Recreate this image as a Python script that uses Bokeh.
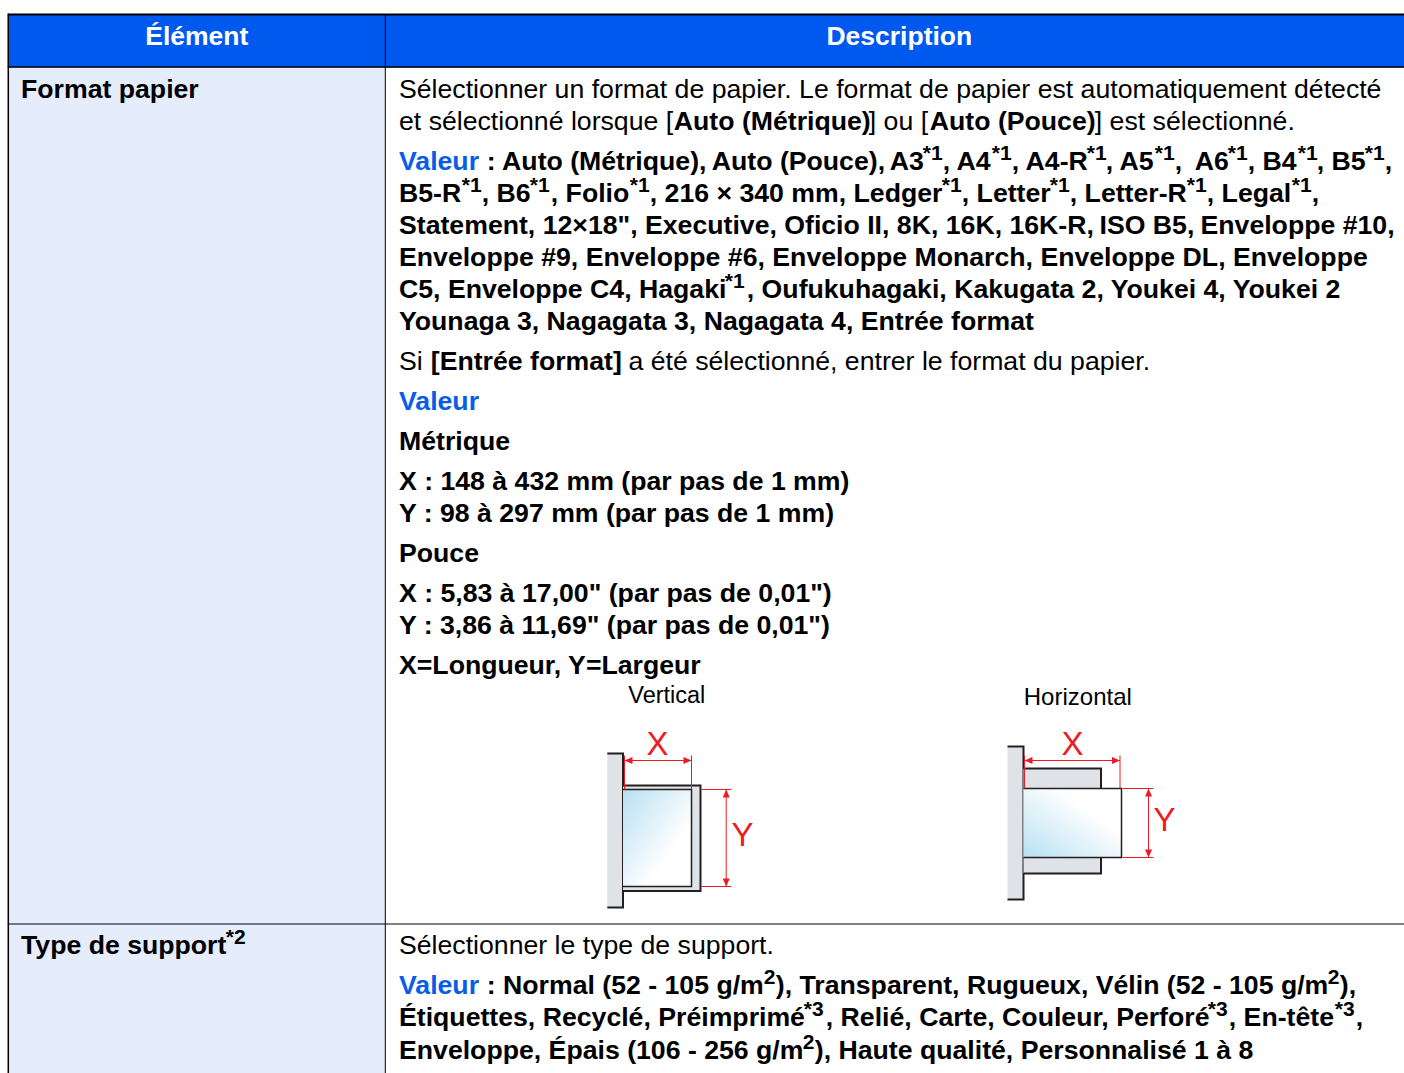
import numpy as np
from bokeh.plotting import figure
from bokeh.models import Range1d
from bokeh.embed import file_html
from bokeh.resources import INLINE
from bokeh.core.properties import value

FONT = "Liberation Sans"
BLUE = "#0059ee"
LINK = "#0a5ce8"
PALE = "#e5ecfb"
GRAY = "#dfe2e6"
RED = "#ec1c24"
DARK = "#231f20"

# ---- table texts
header_labels = ["Élément", "Description"]
row_labels = ["Format papier", "Type de support"]

line_1 = ["Sélectionner un format de papier. Le format de papier est automatiquement détecté"]
line_2 = ["et sélectionné lorsque [", "Auto (Métrique)", "] ou [", "Auto (Pouce)", "] est sélectionné."]
line_3 = ["Valeur", ": Auto (Métrique),", "Auto (Pouce),", "A3", "*1", ", A4", "*1", ", A4-R", "*1", ", A5", "*1", ",", "A6", "*1", ", B4", "*1", ", B5", "*1", ","]
line_4 = ["B5-R", "*1", ", B6", "*1", ", Folio", "*1", ", 216 × 340 mm, Ledger", "*1", ", Letter", "*1", ", Letter-R", "*1", ", Legal", "*1", ","]
line_5 = ["Statement, 12×18\", Executive, Oficio II, 8K, 16K, 16K-R,", "ISO B5,", "Enveloppe #10,"]
line_6 = ["Enveloppe #9, Enveloppe #6, Enveloppe Monarch, Enveloppe DL, Enveloppe"]
line_7 = ["C5, Enveloppe C4, Hagaki", "*1", ", Oufukuhagaki, Kakugata 2, Youkei 4, Youkei 2"]
line_8 = ["Younaga 3, Nagagata 3, Nagagata 4, Entrée format"]
line_9 = ["Si ", "[Entrée format]", "a été sélectionné, entrer le format du papier."]
line_10 = ["Valeur"]
line_11 = ["Métrique"]
line_12 = ["X : 148 à 432 mm (par pas de 1 mm)"]
line_13 = ["Y : 98 à 297 mm (par pas de 1 mm)"]
line_14 = ["Pouce"]
line_15 = ["X : 5,83 à 17,00\" (par pas de 0,01\")"]
line_16 = ["Y : 3,86 à 11,69\" (par pas de 0,01\")"]
line_17 = ["X=Longueur, Y=Largeur"]
line_18 = ["Sélectionner le type de support."]
line_19 = ["Valeur", ": Normal (52 - 105 g/m", "2", "), Transparent, Rugueux, Vélin (52 - 105 g/m", "2", "),"]
line_20 = ["Étiquettes, Recyclé, Préimprimé", "*3", ", Relié, Carte, Couleur, Perforé", "*3", ", En-tête", "*3", ","]
line_21 = ["Enveloppe, Épais (106 - 256 g/m", "2", "), Haute qualité, Personnalisé 1 à 8"]
row2_sup = ["*2"]
diagram_titles = ["Vertical", "Horizontal"]
diagram_marks = ["X", "Y"]

# ---- layout of those runs on the page: left edges, baselines, styles
X0 = 399.2
layout = [
    (line_1, 98, [X0], "r"),
    (line_2, 130, [X0, 674, 869, 930, 1095], "rbrbr"),
    (line_3, 170, [X0, 487, 712, 890, 923, 943, 992, 1012, 1087, 1106, 1155, 1175, 1195, 1228, 1248, 1298, 1317, 1365, 1385], "vbbbsbsbsbsbbsbsbsb"),
    (line_4, 202, [X0, 462, 482, 530, 551, 630, 650, 942, 962, 1050, 1070, 1187, 1207, 1292, 1312], "bsbsbsbsbsbsbsb"),
    (line_5, 234, [X0, 1099.7, 1200.7], "bbb"),
    (line_6, 266, [X0], "b"),
    (line_7, 298, [X0, 725, 747], "bsb"),
    (line_8, 330, [X0], "b"),
    (line_9, 370, [X0, 431, 628.7], "rbr"),
    (line_10, 410, [X0], "v"),
    (line_11, 450, [X0], "b"),
    (line_12, 490, [X0], "b"),
    (line_13, 522, [X0], "b"),
    (line_14, 562, [X0], "b"),
    (line_15, 602, [X0], "b"),
    (line_16, 634, [X0], "b"),
    (line_17, 674, [X0], "b"),
    (line_18, 954, [X0], "r"),
    (line_19, 994, [X0, 487, 764, 776, 1328, 1340], "vbsbsb"),
    (line_20, 1026, [X0, 804, 826, 1208, 1229, 1335, 1356], "bsbsbsb"),
    (line_21, 1059, [X0, 803, 815], "bsb"),
]

p = figure(width=1404, height=1073, output_backend="svg", toolbar_location=None,
           x_range=Range1d(0.7, 1404.7), y_range=Range1d(1073, 0),
           min_border=0, outline_line_color=None, border_fill_color="white",
           background_fill_color="white")
p.axis.visible = False
p.grid.visible = False


def box(l, t, r, b, fill, line=None, w=1):
    p.quad(left=[l], right=[r], top=[t], bottom=[b], fill_color=fill,
           line_color=line, line_width=w)


def seg(xs, ys, color, w):
    p.line(xs, ys, line_color=color, line_width=w, line_cap="butt", line_join="miter")


def write(txt, x, y, size, color="black", weight="normal", align="left"):
    lift = 0.37 * float(size[:-2])
    p.text([x], [y - lift], text=[txt], text_font=value(FONT), text_font_size=size,
           text_color=color, text_font_style=weight, text_align=align,
           text_baseline="alphabetic")


# ---- table
box(8, 14, 1406, 67, BLUE)
box(8, 67, 385.5, 1073, PALE)
seg([8, 1406], [14, 14], "black", 2)
seg([8, 1406], [66.5, 66.5], "black", 1.5)
seg([8.5, 8.5], [13, 1073], "black", 1.5)
seg([385.5, 385.5], [14, 1073], "black", 1)
seg([8, 1406], [923.5, 923.5], "black", 1.2)

write(header_labels[0], 197, 45, "26.5px", "white", "bold", "center")
write(header_labels[1], 899.5, 45, "26.5px", "white", "bold", "center")
write(row_labels[0], 21.2, 98, "26.67px", "black", "bold")
write(row_labels[1], 21.2, 954, "26.67px", "black", "bold")
write(row2_sup[0], 226, 944, "21px", "black", "bold")

for texts, base, xs, styles in layout:
    for t, x, s in zip(texts, xs, styles):
        if s == "r":
            write(t, x, base, "26.67px")
        elif s == "b":
            write(t, x, base, "26.67px", "black", "bold")
        elif s == "v":
            write(t, x, base, "26.67px", LINK, "bold")
        else:
            write(t, x, base - 10, "21px", "black", "bold")


# ---- diagrams
def gradient(l, t, r, b, flip):
    n_x, n_y = int(r - l), int(b - t)
    img = np.zeros((n_y, n_x), dtype=np.uint32)
    v = img.view(dtype=np.uint8).reshape((n_y, n_x, 4))
    u = np.linspace(0, 1, n_x)[None, :]
    w = np.linspace(0, 1, n_y)[:, None]
    f = np.clip(1 - (u * 0.75 + (1 - w if flip else w) * 0.75), 0, 1)
    v[..., 0] = (255 - 70 * f).astype(np.uint8)
    v[..., 1] = (255 - 30 * f).astype(np.uint8)
    v[..., 2] = (255 - 12 * f).astype(np.uint8)
    v[..., 3] = 255
    p.image_rgba(image=[img], x=l, y=t, dw=r - l, dh=b - t, anchor="bottom_left", origin="top_left")


def head(tipx, tipy, dx, dy):
    L, W = 8, 3.5
    p.patch([tipx, tipx + dx * L - dy * W, tipx + dx * L + dy * W],
            [tipy, tipy + dy * L - dx * W, tipy + dy * L + dx * W],
            fill_color=RED, line_color=None)


def diagram(wall, tray, paper, xs, ya, xarrow, xmark, ymark, flip):
    box(wall[0], wall[1], wall[2], wall[3], GRAY)
    seg([wall[0], wall[2], wall[2], wall[0]], [wall[1], wall[1], wall[3], wall[3]], DARK, 2)
    box(wall[2], tray[1], tray[2], tray[3], GRAY)
    seg([wall[2], tray[2], tray[2], wall[2]], [tray[1], tray[1], tray[3], tray[3]], DARK, 2)
    gradient(wall[2], paper[1], paper[2], paper[3], flip)
    seg([wall[2], paper[2], paper[2], wall[2]], [paper[1], paper[1], paper[3], paper[3]], DARK, 1.5)
    seg([xs[0], xs[0]], [755, paper[1]], RED, 1)
    seg([xs[1], xs[1]], [755, paper[1]], RED, 1)
    seg([xs[0], xs[1]], [xarrow, xarrow], RED, 1)
    head(xs[0], xarrow, 1, 0)
    head(xs[1], xarrow, -1, 0)
    seg([paper[2] + ya[1], paper[2] + ya[2]], [paper[1], paper[1]], RED, 1)
    seg([paper[2] + ya[1], paper[2] + ya[2]], [paper[3], paper[3]], RED, 1)
    seg([ya[0], ya[0]], [paper[1], paper[3]], RED, 1)
    head(ya[0], paper[1], 0, 1)
    head(ya[0], paper[3], 0, -1)
    write(diagram_marks[0], xmark[0], xmark[1], "33px", RED, "normal", "center")
    write(diagram_marks[1], ymark[0], ymark[1], "33px", RED, "normal", "center")


write(diagram_titles[0], 667, 703, "23.5px", "black", "normal", "center")
write(diagram_titles[1], 1078, 705, "24px", "black", "normal", "center")

diagram((607.5, 753, 623.2, 907), (0, 785, 700.7, 890.5), (0, 789, 691.7, 886),
        (624.7, 691.7), (726.4, 9, 40), 760, (657.7, 755), (742.7, 846), True)
diagram((1007.7, 746, 1023.7, 899), (0, 768, 1101.2, 873), (0, 788, 1121.7, 857),
        (1024.7, 1120.2), (1148.7, 1, 32), 760, (1072.7, 755), (1164.7, 831), False)

open("out.html", "w").write(file_html(p, INLINE))
